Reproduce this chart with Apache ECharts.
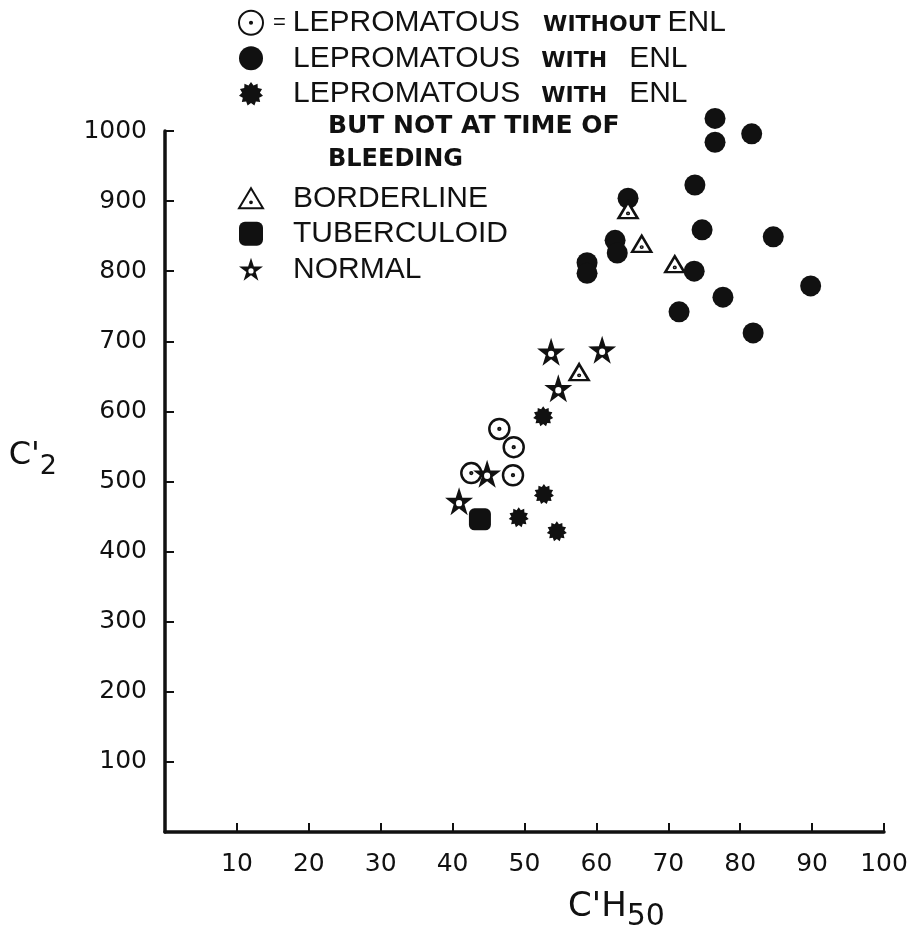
<!DOCTYPE html>
<html>
<head>
<meta charset="utf-8">
<script src="https://cdn.jsdelivr.net/npm/echarts@6/dist/echarts.min.js"></script>
<style>
html,body{margin:0;padding:0;background:#fff;}
#chart{width:921px;height:933px;}
</style>
</head>
<body>
<div id="chart"></div>
<script>
// ---- data (C'H50, C'2) ----
const lepromatousWithoutENL = [[46.5,575],[48.5,549],[42.6,512],[48.4,509]];
const lepromatousWithENL = [[76.5,1018],[76.5,984],[81.6,996],[73.7,923],[74.7,859],[84.6,849],[73.6,800],[77.6,763],[71.5,742],[81.8,712],[89.8,779],[64.4,904],[62.6,844],[62.9,826],[58.7,812],[58.7,797]];
const lepromatousENLNotAtBleeding = [[52.6,593],[52.7,482],[49.2,449],[54.5,429]];
const borderline = [[64.4,887],[66.3,839],[70.9,810],[57.6,656]];
const tuberculoid = [[43.8,446]];
const normal = [[53.7,685],[60.8,688],[54.7,633],[44.8,511],[40.9,472]];
const seriesNames = ['LEPROMATOUS WITHOUT ENL','LEPROMATOUS WITH ENL','LEPROMATOUS WITH ENL BUT NOT AT TIME OF BLEEDING','BORDERLINE','TUBERCULOID','NORMAL'];
const xRange = [0, 100, 10];
const yRange = [0, 1000, 100];

// ---- symbol shapes ----
function circ(cx, cy, r, ccw){
  const s = ccw ? 0 : 1;
  return 'M'+cx+','+(cy-r)+' A'+r+','+r+' 0 1,'+s+' '+cx+','+(cy+r)+' A'+r+','+r+' 0 1,'+s+' '+cx+','+(cy-r)+' Z ';
}
const ringDot = 'path://' + circ(0,0,10) + circ(0,0,0.9);
const triDot = 'path://M0,-9 L9.5,7 L-9.5,7 Z ' + circ(0,2.2,0.7);
function starPath(){
  let d = '';
  for (let i=0;i<10;i++){
    const r = i%2===0 ? 14 : 5.4;
    const a = -Math.PI/2 + i*Math.PI/5;
    d += (i===0?'M':'L') + (r*Math.cos(a)).toFixed(2) + ',' + (r*Math.sin(a)).toFixed(2) + ' ';
  }
  return 'path://' + d + 'Z ' + circ(0,0.5,2.9,true);
}
function burstPath(){
  let d = '';
  const n = 22;
  for (let i=0;i<n;i++){
    const r = i%2===0 ? 10 : 7.4;
    const a = -Math.PI/2 + i*2*Math.PI/n;
    d += (i===0?'M':'L') + (r*Math.cos(a)).toFixed(2) + ',' + (r*Math.sin(a)).toFixed(2) + ' ';
  }
  return 'path://' + d + 'Z';
}

const INK = '#111111';
const FONT = "'Liberation Sans', Arial, sans-serif";
const NUMFONT = "'DejaVu Sans', sans-serif";
const LH = 35.5;

const legendRich = {
  b: {fontFamily: FONT, fontSize: 30, color: INK, lineHeight: LH, verticalAlign: 'middle'},
  s1: {fontFamily: NUMFONT, fontSize: 22, fontWeight: 'bold', color: INK, verticalAlign: 'middle', padding: [5.5, 7, 0, 23]},
  s2: {fontFamily: NUMFONT, fontSize: 22, fontWeight: 'bold', color: INK, verticalAlign: 'middle', padding: [5.5, 22, 0, 21]},
  eq: {fontFamily: FONT, fontSize: 22, color: INK, lineHeight: LH, verticalAlign: 'middle', padding: [0, 7, 0, 5]},
  pad: {fontFamily: FONT, fontSize: 30, color: INK, lineHeight: LH, width: 25}
};
function legendFormatter(name){
  switch(name){
    case seriesNames[0]: return '{eq|=}{b|LEPROMATOUS}{s1|WITHOUT}{b|ENL}';
    case seriesNames[1]: return '{pad|}{b|LEPROMATOUS}{s2|WITH}{b|ENL}';
    case seriesNames[2]: return '{pad|}{b|LEPROMATOUS}{s2|WITH}{b|ENL}';
    default: return '{pad|}{b|' + name + '}';
  }
}

const chart = echarts.init(document.getElementById('chart'), null, {renderer: 'canvas'});
const openStyle = {color: '#fff', borderColor: INK, borderWidth: 2.5, opacity: 1};
const solidStyle = {color: INK, opacity: 1};
chart.setOption({
  backgroundColor: '#ffffff',
  animation: false,
  grid: {left: 165, right: 37, top: 131, bottom: 101, containLabel: false, outerBoundsMode: 'none'},
  legend: [
    {
      orient: 'vertical', left: 238, top: 5, padding: 0, itemGap: 0,
      itemWidth: 24, itemHeight: 24, selectedMode: false,
      data: seriesNames.slice(0,3),
      formatter: legendFormatter,
      textStyle: {fontFamily: FONT, fontSize: 30, color: INK, lineHeight: LH, rich: legendRich}
    },
    {
      orient: 'vertical', left: 238, top: 180.5, padding: 0, itemGap: 0,
      itemWidth: 24, itemHeight: 24, selectedMode: false,
      data: seriesNames.slice(3),
      formatter: legendFormatter,
      textStyle: {fontFamily: FONT, fontSize: 30, color: INK, lineHeight: LH, rich: legendRich}
    }
  ],
  graphic: [
    {type: 'text', left: 328, top: 114, style: {text: 'BUT NOT AT TIME OF', font: "bold 25px 'DejaVu Sans', sans-serif", fill: INK}},
    {type: 'text', left: 328, top: 148, style: {text: 'BLEEDING', font: "bold 24px 'DejaVu Sans', sans-serif", fill: INK}}
  ],
  xAxis: {
    type: 'value', min: xRange[0], max: xRange[1], interval: xRange[2],
    name: "{n|C'H}{sub|50}", nameLocation: 'middle', nameGap: 58,
    nameTextStyle: {
      padding: [0, 0, 0, 184],
      rich: {
        n: {fontFamily: NUMFONT, fontSize: 34, color: INK, lineHeight: 34, verticalAlign: 'top'},
        sub: {fontFamily: NUMFONT, fontSize: 30, color: INK, lineHeight: 42.5, verticalAlign: 'bottom'}
      }
    },
    axisLine: {show: true, onZero: false, lineStyle: {color: INK, width: 3.5}},
    axisTick: {show: true, inside: true, length: 9, lineStyle: {color: INK, width: 2}},
    axisLabel: {
      margin: 20, fontFamily: NUMFONT, fontSize: 25, color: INK,
      formatter: v => v === 0 ? '' : String(v)
    },
    splitLine: {show: false}
  },
  yAxis: {
    type: 'value', min: yRange[0], max: yRange[1], interval: yRange[2],
    name: "{n|C'}{sub|2}", nameLocation: 'middle', nameGap: 108, nameRotate: 0,
    nameTextStyle: {
      padding: [0, 0, 43.5, 0],
      rich: {
        n: {fontFamily: NUMFONT, fontSize: 32, color: INK, lineHeight: 34, verticalAlign: 'top'},
        sub: {fontFamily: NUMFONT, fontSize: 27, color: INK, lineHeight: 40.5, verticalAlign: 'bottom'}
      }
    },
    axisLine: {show: true, onZero: false, lineStyle: {color: INK, width: 3.5}},
    axisTick: {show: true, inside: true, length: 9, lineStyle: {color: INK, width: 2}},
    axisLabel: {
      margin: 18, fontFamily: NUMFONT, fontSize: 25, color: INK,
      formatter: v => v === 0 ? '' : String(v)
    },
    splitLine: {show: false}
  },
  series: [
    {name: seriesNames[0], type: 'scatter', clip: false, data: lepromatousWithoutENL, symbol: ringDot, symbolSize: 20, itemStyle: openStyle},
    {name: seriesNames[1], type: 'scatter', clip: false, data: lepromatousWithENL, symbol: 'circle', symbolSize: 21, itemStyle: solidStyle},
    {name: seriesNames[2], type: 'scatter', clip: false, data: lepromatousENLNotAtBleeding, symbol: burstPath(), symbolSize: 20, itemStyle: solidStyle},
    {name: seriesNames[3], type: 'scatter', clip: false, data: borderline, symbol: triDot, symbolSize: [19, 16], itemStyle: openStyle},
    {name: seriesNames[4], type: 'scatter', clip: false, data: tuberculoid, symbol: 'roundRect', symbolSize: 22, itemStyle: solidStyle},
    {name: seriesNames[5], type: 'scatter', clip: false, data: normal, symbol: starPath(), symbolSize: 28, itemStyle: solidStyle}
  ]
});
</script>
</body>
</html>
